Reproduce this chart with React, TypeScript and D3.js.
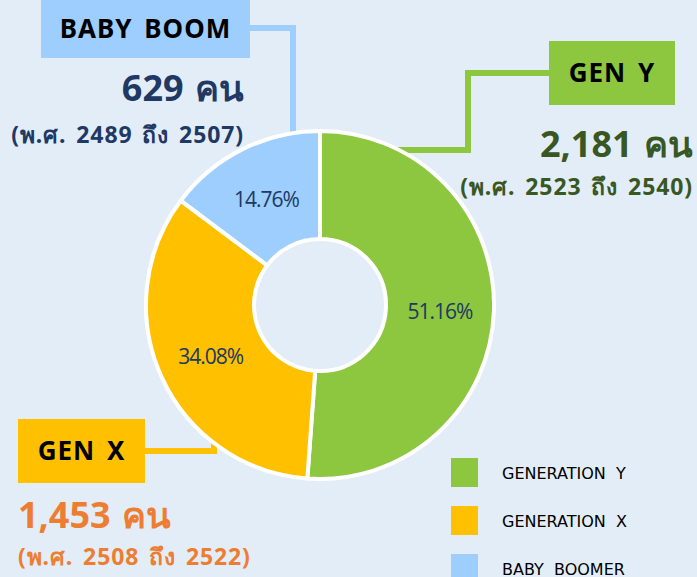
import React, { useEffect, useRef } from "react";
import * as d3 from "d3";

// generation groups, clockwise from 12 o'clock
const groups = ["GEN Y", "GEN X", "BABY BOOM"];
const counts = [2181, 1453, 629];
const pctLabels = ["51.16%", "34.08%", "14.76%"];
const countLabels = ["2,181 คน", "1,453 คน", "629 คน"];
const yearLabels = ["(พ.ศ. 2523 ถึง 2540)", "(พ.ศ. 2508 ถึง 2522)", "(พ.ศ. 2489 ถึง 2507)"];
const legendLabels = ["GENERATION  Y", "GENERATION  X", "BABY  BOOMER"];
const colors = ["#8DC63F", "#FFC000", "#9DCEFD"];
const textColors = ["#385723", "#ED7D31", "#203864"];

const W = 697;
const H = 577;

const App: React.FC = () => {
  const ref = useRef<SVGSVGElement | null>(null);

  useEffect(() => {
    if (!ref.current) return;
    const svg = d3.select(ref.current);
    svg.selectAll("*").remove();

    svg.append("rect").attr("width", W).attr("height", H).attr("fill", "#E3EDF7");

    const cx = 320;
    const cy = 305;
    const outerR = 174;
    const innerR = 66;

    const pie = d3.pie<number>().sort(null).value((d) => d);
    const arcs = pie(counts);
    const arc = d3.arc<d3.PieArcDatum<number>>().innerRadius(innerR).outerRadius(outerR);

    // connectors (drawn under the donut)
    const conn = svg.append("g").attr("fill", "none").attr("stroke-width", 6);
    // baby boom
    conn
      .append("path")
      .attr("stroke", colors[2])
      .attr("d", d3.line()([[250, 28], [293, 28], [293, 140]]));
    // gen y
    conn
      .append("path")
      .attr("stroke", colors[0])
      .attr("d", d3.line()([[549, 73], [468, 73], [468, 150], [380, 150]]));
    // gen x
    conn
      .append("path")
      .attr("stroke", colors[1])
      .attr("d", d3.line()([[145, 451], [214, 451], [214, 436]]));

    const g = svg.append("g").attr("transform", `translate(${cx},${cy})`);
    g.selectAll("path.slice")
      .data(arcs)
      .enter()
      .append("path")
      .attr("class", "slice")
      .attr("d", arc)
      .attr("fill", (_, i) => colors[i])
      .attr("stroke", "#fff")
      .attr("stroke-width", 4)
      .attr("stroke-linejoin", "round");

    g.selectAll("text.pct")
      .data(arcs)
      .enter()
      .append("text")
      .attr("class", "pct")
      .attr("transform", (d) => `translate(${arc.centroid(d)})`)
      .attr("dy", "0.45em")
      .attr("text-anchor", "middle")
      .attr("font-family", "'Open Sans', sans-serif")
      .attr("font-size", 21)
      .attr("letter-spacing", -1)
      .attr("fill", "#203864")
      .text((_, i) => pctLabels[i]);

    // label boxes + numbers
    const font = "Tahoma, 'Noto Sans', 'DejaVu Sans', sans-serif";
    const boxes = [
      { x: 549, y: 41, w: 126, h: 64, numX: 693, numY: 157, yrY: 195, anchor: "end" },
      { x: 18, y: 419, w: 127, h: 64, numX: 18, numY: 528, yrY: 565, anchor: "start" },
      { x: 41, y: 0, w: 209, h: 58, numX: 244, numY: 101, yrY: 143, anchor: "end" },
    ];
    boxes.forEach((b, i) => {
      svg
        .append("rect")
        .attr("x", b.x)
        .attr("y", b.y)
        .attr("width", b.w)
        .attr("height", b.h)
        .attr("fill", colors[i]);
      svg
        .append("text")
        .attr("x", b.x + b.w / 2)
        .attr("y", b.y + b.h / 2)
        .attr("dy", "0.36em")
        .attr("text-anchor", "middle")
        .attr("font-family", font)
        .attr("font-weight", "bold")
        .attr("font-size", 26)
        .attr("letter-spacing", 1)
        .attr("word-spacing", 4)
        .attr("fill", "#000")
        .text(groups[i]);
      svg
        .append("text")
        .attr("x", b.numX)
        .attr("y", b.numY)
        .attr("text-anchor", b.anchor)
        .attr("font-family", font)
        .attr("font-weight", "bold")
        .attr("font-size", 36)
        .attr("word-spacing", 2)
        .attr("fill", textColors[i])
        .text(countLabels[i]);
      svg
        .append("text")
        .attr("x", b.numX)
        .attr("y", b.yrY)
        .attr("text-anchor", b.anchor)
        .attr("font-family", font)
        .attr("font-weight", "bold")
        .attr("font-size", 23)
        .attr("letter-spacing", 0.9)
        .attr("word-spacing", 3)
        .attr("fill", textColors[i])
        .text(yearLabels[i]);
    });

    // legend
    const legend = svg.append("g").attr("transform", "translate(451,458)");
    const ly = d3.scaleBand<number>().domain(d3.range(legendLabels.length)).range([0, 144]);
    legendLabels.forEach((lab, i) => {
      legend
        .append("rect")
        .attr("x", 0)
        .attr("y", ly(i)!)
        .attr("width", 27)
        .attr("height", 29)
        .attr("fill", colors[i]);
      legend
        .append("text")
        .attr("x", 51)
        .attr("y", ly(i)! + 15)
        .attr("dy", "0.36em")
        .attr("font-family", "'DejaVu Sans', sans-serif")
        .attr("font-size", 16)
        .attr("style", "white-space: pre")
        .attr("fill", "#000")
        .text(lab);
    });
  }, []);

  return (
    <svg
      ref={ref}
      width={W}
      height={H}
      style={{ position: "absolute", left: 0, top: 0, display: "block" }}
    />
  );
};

export default App;
